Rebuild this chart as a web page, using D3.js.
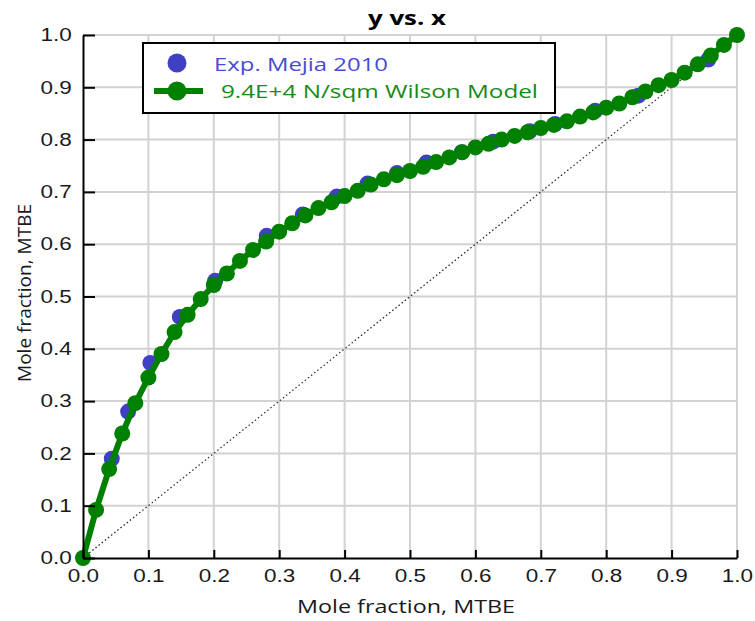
<!DOCTYPE html>
<meta charset="utf-8">
<style>
body { margin: 0; background: #fff; font-family: "Open Sans", sans-serif; }
.grid line { stroke: #d2d2d2; stroke-width: 2px; }
.axis path, .axis line { stroke: #000; stroke-width: 2px; }
.axis text { font-size: 18px; fill: #1a1a1a; }
</style>
<body>
<script src="https://cdnjs.cloudflare.com/ajax/libs/d3/7.8.5/d3.min.js"></script>
<script>
// model curve, x steps of 0.02
var modelX = [0, 0.02, 0.04, 0.06, 0.08, 0.10, 0.12, 0.14, 0.16, 0.18,
  0.20, 0.22, 0.24, 0.26, 0.28, 0.30, 0.32, 0.34, 0.36, 0.38,
  0.40, 0.42, 0.44, 0.46, 0.48, 0.50, 0.52, 0.54, 0.56, 0.58,
  0.60, 0.62, 0.64, 0.66, 0.68, 0.70, 0.72, 0.74, 0.76, 0.78,
  0.80, 0.82, 0.84, 0.86, 0.88, 0.90, 0.92, 0.94, 0.96, 0.98, 1.0];
var modelY = [0, 0.092, 0.170, 0.238, 0.296, 0.345, 0.390, 0.432, 0.465, 0.495,
  0.522, 0.544, 0.568, 0.589, 0.605, 0.624, 0.640, 0.655, 0.669, 0.680,
  0.692, 0.702, 0.714, 0.724, 0.732, 0.740, 0.748, 0.757, 0.766, 0.776,
  0.785, 0.792, 0.800, 0.807, 0.814, 0.822, 0.828, 0.835, 0.844, 0.852,
  0.861, 0.869, 0.881, 0.892, 0.904, 0.914, 0.928, 0.944, 0.961, 0.981, 1.0];

// experimental points (Mejia 2010)
var expX = [0.044, 0.069, 0.103, 0.148, 0.202, 0.281, 0.336, 0.388, 0.435, 0.480,
  0.525, 0.579, 0.627, 0.683, 0.722, 0.783, 0.849, 0.956];
var expY = [0.190, 0.280, 0.373, 0.461, 0.530, 0.616, 0.657, 0.691, 0.716, 0.736,
  0.756, 0.776, 0.796, 0.816, 0.830, 0.855, 0.884, 0.953];

var ticks = [0, 0.1, 0.2, 0.3, 0.4, 0.5, 0.6, 0.7, 0.8, 0.9, 1.0];
var seriesNames = ["Exp. Mejia 2010", "9.4E+4 N/sqm Wilson Model"];

var width = 755, height = 621;
var margin = {left: 83, right: 18, top: 35, bottom: 63};

var x = d3.scaleLinear().domain([0, 1]).range([margin.left, width - margin.right]);
var y = d3.scaleLinear().domain([0, 1]).range([height - margin.bottom, margin.top]);

var green = "#008000", blue = "#4040c4";

var svg = d3.select("body").append("svg")
    .attr("width", width)
    .attr("height", height);

// grid
var grid = svg.append("g").attr("class", "grid");
grid.selectAll(".gx").data(ticks.slice(1)).enter().append("line")
    .attr("x1", function(d) { return x(d); }).attr("x2", function(d) { return x(d); })
    .attr("y1", y(0)).attr("y2", y(1));
grid.selectAll(".gy").data(ticks.slice(1)).enter().append("line")
    .attr("x1", x(0)).attr("x2", x(1))
    .attr("y1", function(d) { return y(d); }).attr("y2", function(d) { return y(d); });

// y = x reference
svg.append("line")
    .attr("x1", x(0)).attr("y1", y(0)).attr("x2", x(1)).attr("y2", y(1))
    .attr("stroke", "#222").attr("stroke-width", 1.2).attr("stroke-dasharray", "1.5,2.5");

// experimental
svg.selectAll(".exp").data(expX).enter().append("circle")
    .attr("class", "exp")
    .attr("cx", function(d) { return x(d); })
    .attr("cy", function(d, i) { return y(expY[i]); })
    .attr("r", 8)
    .attr("fill", blue);

// model
var pts = modelX.map(function(d, i) { return [d, modelY[i]]; });
svg.append("path")
    .datum(pts)
    .attr("fill", "none").attr("stroke", green).attr("stroke-width", 6)
    .attr("d", d3.line().x(function(d) { return x(d[0]); }).y(function(d) { return y(d[1]); }));
svg.selectAll(".mod").data(pts).enter().append("circle")
    .attr("class", "mod")
    .attr("cx", function(d) { return x(d[0]); })
    .attr("cy", function(d) { return y(d[1]); })
    .attr("r", 8)
    .attr("fill", green);

// axes
var xAxis = svg.append("g").attr("class", "axis")
    .attr("transform", "translate(0," + y(0) + ")")
    .call(d3.axisBottom(x).tickValues(ticks).tickFormat(d3.format(".1f")).tickSizeInner(-8).tickSizeOuter(0).tickPadding(20));
xAxis.selectAll("text").attr("transform", "scale(1.25,1)")
    .attr("dy", "0.2em");

var yAxis = svg.append("g").attr("class", "axis")
    .attr("transform", "translate(" + x(0) + ",0)")
    .call(d3.axisLeft(y).tickValues(ticks).tickFormat(d3.format(".1f")).tickSizeInner(-12).tickSizeOuter(0).tickPadding(0));
yAxis.selectAll("text").attr("x", -9).attr("transform", "scale(1.25,1)");

// titles
svg.append("text")
    .attr("x", 407).attr("y", 25)
    .attr("text-anchor", "middle")
    .attr("font-size", 19).attr("font-weight", "bold")
    .attr("textLength", 78).attr("lengthAdjust", "spacingAndGlyphs")
    .text("y vs. x");

svg.append("text")
    .attr("x", 406).attr("y", 613)
    .attr("text-anchor", "middle")
    .attr("font-size", 18).attr("fill", "#1a1a1a")
    .attr("textLength", 218).attr("lengthAdjust", "spacingAndGlyphs")
    .text("Mole fraction, MTBE");

svg.append("text")
    .attr("transform", "translate(31,293) rotate(-90)")
    .attr("text-anchor", "middle")
    .attr("font-size", 18).attr("fill", "#1a1a1a")
    .attr("textLength", 178).attr("lengthAdjust", "spacingAndGlyphs")
    .text("Mole fraction, MTBE");

// legend
var lg = svg.append("g");
lg.append("rect")
    .attr("x", 143).attr("y", 43).attr("width", 412).attr("height", 70)
    .attr("fill", "#fff").attr("stroke", "#000").attr("stroke-width", 2);
lg.append("circle").attr("cx", 177).attr("cy", 63).attr("r", 9.5).attr("fill", blue);
lg.append("text")
    .attr("x", 214).attr("y", 71)
    .attr("font-size", 19).attr("fill", "#4a4ad2")
    .attr("textLength", 174).attr("lengthAdjust", "spacingAndGlyphs")
    .text(seriesNames[0]);
lg.append("line").attr("x1", 154).attr("x2", 203).attr("y1", 91).attr("y2", 91)
    .attr("stroke", green).attr("stroke-width", 6);
lg.append("circle").attr("cx", 177).attr("cy", 91).attr("r", 9.5).attr("fill", green);
lg.append("text")
    .attr("x", 221).attr("y", 98)
    .attr("font-size", 19).attr("fill", "#178a17")
    .attr("textLength", 317).attr("lengthAdjust", "spacingAndGlyphs")
    .text(seriesNames[1]);
</script>
